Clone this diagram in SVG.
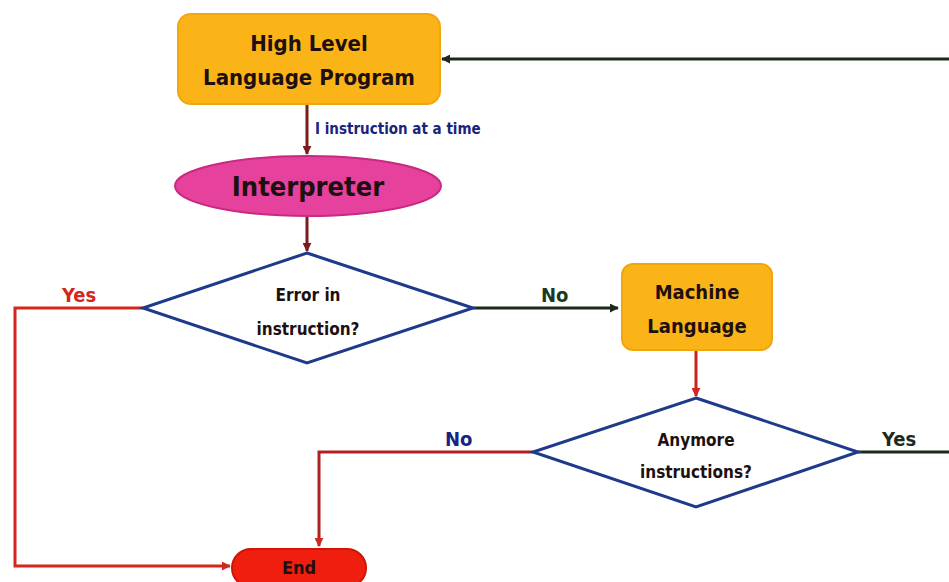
<svg xmlns="http://www.w3.org/2000/svg" width="949" height="582" viewBox="0 0 949 582">
<defs>
<style>
.t{font-family:"DejaVu Sans Condensed","DejaVu Sans",sans-serif;font-weight:bold;text-anchor:middle;fill:#1E1010}
.box{fill:#FBB417;stroke:#F2A60E;stroke-width:2}
.dia{fill:#fff;stroke:#1E3A8A;stroke-width:3}
.c{fill:none;stroke-width:3}
.lbl{font-family:"DejaVu Sans Condensed","DejaVu Sans",sans-serif;font-weight:bold;font-size:19px}
</style>
<marker id="ard" viewBox="0 0 10 10" refX="9" refY="5" markerWidth="3" markerHeight="3" orient="auto"><path d="M0,0L10,5L0,10z" fill="#7A1C1C"/></marker>
<marker id="arr" viewBox="0 0 10 10" refX="9" refY="5" markerWidth="3" markerHeight="3" orient="auto"><path d="M0,0L10,5L0,10z" fill="#D4261C"/></marker>
<marker id="ark" viewBox="0 0 10 10" refX="9" refY="5" markerWidth="3" markerHeight="3" orient="auto"><path d="M0,0L10,5L0,10z" fill="#1B2A1B"/></marker>
</defs>
<rect width="949" height="582" fill="#fff"/>
<g id="connectors">
<path class="c" d="M307,104V154" stroke="#7A1C1C" marker-end="url(#ard)"/>
<path class="c" d="M307,216V251" stroke="#7A1C1C" marker-end="url(#ard)"/>
<path class="c" d="M143,308H15V566H230" stroke="#D4261C" marker-end="url(#arr)"/>
<path class="c" d="M473,308H618" stroke="#1B2A1B" marker-end="url(#ark)"/>
<path class="c" d="M696,350V396" stroke="#C62424" marker-end="url(#arr)"/>
<path class="c" d="M533,452H319V546" stroke="#B02020" marker-end="url(#arr)"/>
<path class="c" d="M858,452H949" stroke="#1B2A1B"/>
<path class="c" d="M949,59H442" stroke="#1B2A1B" marker-end="url(#ark)"/>
<text class="lbl" x="315" y="134" style="font-size:15px" fill="#1A237E">I instruction at a time</text>
<text class="lbl" x="62" y="302" fill="#D4261C" style="font-size:20px">Yes</text>
<text class="lbl" x="541" y="302" fill="#1B3A1B" style="font-size:20px">No</text>
<text class="lbl" x="445" y="446" fill="#1A237E" style="font-size:20px">No</text>
<text class="lbl" x="882" y="446" fill="#1B2A1B" style="font-size:20px">Yes</text>
</g>
<g id="hll">
<rect class="box" x="178" y="14" width="262" height="90" rx="13"/>
<text class="t" x="309" y="51" font-size="22">High Level</text>
<text class="t" x="309" y="85" font-size="22">Language Program</text>
</g>
<g id="interpreter">
<ellipse cx="308" cy="186" rx="133" ry="30" fill="#E6419C" stroke="#C82A82" stroke-width="2"/>
<text class="t" x="308" y="196" font-size="27">Interpreter</text>
</g>
<g id="error">
<polygon class="dia" points="307,253 473,308 307,363 143,308"/>
<text class="t" x="308" y="301" font-size="17">Error in</text>
<text class="t" x="308" y="335" font-size="17">instruction?</text>
</g>
<g id="machine">
<rect class="box" x="622" y="264" width="150" height="86" rx="11"/>
<text class="t" x="697" y="299" font-size="20">Machine</text>
<text class="t" x="697" y="333" font-size="20">Language</text>
</g>
<g id="anymore">
<polygon class="dia" points="696,398 858,452 696,507 533,452"/>
<text class="t" x="696" y="446" font-size="17">Anymore</text>
<text class="t" x="696" y="478" font-size="17">instructions?</text>
</g>
<g id="end">
<rect x="232" y="549" width="134" height="38" rx="19" fill="#F01E0E" stroke="#D01408" stroke-width="2"/>
<text class="t" x="299" y="574" font-size="18">End</text>
</g>
</svg>
